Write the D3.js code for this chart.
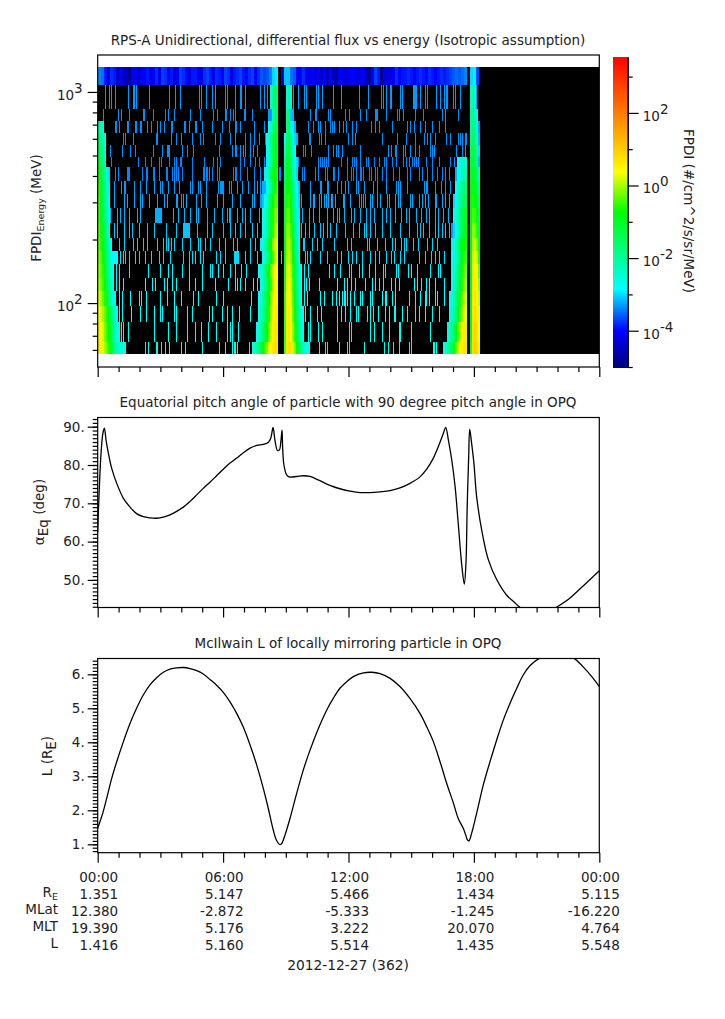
<!DOCTYPE html>
<html>
<head>
<meta charset="utf-8">
<title>RPS-A flux</title>
<script src="https://cdn.jsdelivr.net/npm/d3@7"></script>
<style>
  body { margin: 0; background: #fff; }
  text { font-family: "DejaVu Sans", sans-serif; fill: #222; }
</style>
</head>
<body>
<div id="my_dataviz"></div>
<script>
// ---- data ----
var sampleHours = 0.04785; // one spectrogram column, about 2.87 min
var lastSample = 501;
var countSpan = 1.5; // columns covered by one count

// energy channel edges in MeV, top of the plot first
var channelEdges = [1318, 1083, 833, 731, 641.5, 562.6, 493.6, 442.6, 380, 329.6, 283, 240, 204, 176.9, 153.6, 131.8, 114.4, 97.1, 81.5, 65.5, 57.5];

// top channel, log10 flux for every 3 columns (null = no counts)
var topChannel = [-3.4, -3.5, -3.9, -4.3, -3.8, -3.9, -4.4, -4, -4.4, -4.6, -4.8, -4.1, -4, -4.5, -4.1, -4, -3.9, -4.2, -4, -3.8,
  -4.1, -3.7, -3.8, -4.1, -3.9, -4.4, -4, -3.7, -3.8, -4, -4.2, -3.9, -3.9, -4.1, -4.2, -3.8, -3.7, -3.9, -4.1, -3.8,
  -3.9, -4, -3.7, -3.8, -4.2, -3.9, -3.8, -3.7, -3.9, -4, -3.8, -3.7, -4, -3.8, -3.6, -3.7, -3.6, -3.4, -3, -2.9,
  null, -4.2, -3.1, -3.1, -3.5, -3.6, -4, -4.1, -3.8, -4.2, -4.1, -4, -4.3, -4, -4.4, -4.1, -4.5, -4.1, -4.6, -4.8,
  -4, -4.1, -4.3, -4.1, -4, -4.1, -4.2, -4.1, -4.1, -4.7, -4.8, -4, -3.7, -3.9, -4.9, -4.2, -4.2, -4.3, -4.1, -3.8,
  -4, -3.9, -3.9, -3.8, -3.9, -4, -3.9, -3.8, -3.9, -4, -3.8, -3.9, -4, -3.9, -3.8, -3.9, -3.8, -3.7, -3.6, -3.5,
  -3.6, -3.5, -3.4, null, -3, -2.9, -3.7];

// log10 flux of a single count in channels 1..19
var oneCount = [-3.3, -3.35, -3.35, -3.35, -3.35, -3.4, -3.4, -3.3, -3.25, -3.2, -3.1, -3.05, -3, -2.9, -2.85, -2.8, -2.75, -2.7, -2.6];

// columns with a single count, channels 1..19
var countBins = [
  [7, 11, 13, 17, 30, 35, 36, 38, 51, 71, 77, 82, 101, 103, 108, 114, 117, 127, 129, 137, 142, 143, 147, 162, 166, 169, 192, 195, 200, 206, 208, 218, 220, 224, 235, 243, 261, 270, 283, 285, 288, 292, 293, 302, 304, 315, 316, 317, 318, 322, 327, 329, 338, 342, 346, 348, 349, 355, 357, 362, 378],
  [5, 20, 23, 31, 45, 46, 55, 67, 70, 76, 92, 102, 115, 119, 127, 128, 132, 135, 137, 146, 147, 154, 172, 173, 174, 175, 192, 193, 212, 217, 218, 230, 232, 247, 251, 262, 268, 277, 278, 279, 288, 299, 301, 305, 317, 325, 344, 347, 360],
  [17, 18, 21, 29, 30, 37, 38, 42, 43, 49, 53, 59, 62, 66, 73, 74, 86, 87, 91, 97, 98, 104, 114, 124, 131, 137, 138, 142, 156, 166, 171, 192, 210, 215, 220, 222, 227, 232, 234, 236, 241, 245, 248, 254, 258, 273, 277, 281, 294, 309, 312, 316, 322, 327, 334, 341, 347, 379],
  [25, 27, 35, 58, 59, 73, 78, 83, 94, 102, 105, 117, 122, 132, 137, 147, 152, 156, 161, 167, 196, 211, 212, 221, 223, 227, 250, 254, 257, 284, 299, 308, 317, 326, 329, 332, 337, 348, 352, 360, 362, 364, 367, 368],
  [12, 24, 32, 37, 55, 64, 69, 70, 71, 84, 89, 95, 121, 134, 137, 138, 142, 145, 147, 152, 155, 159, 205, 207, 213, 230, 235, 238, 240, 244, 262, 290, 293, 297, 298, 305, 307, 312, 317, 321, 332, 334, 336, 358, 364, 367],
  [13, 40, 47, 53, 61, 63, 71, 76, 78, 82, 83, 94, 106, 115, 119, 122, 142, 146, 152, 157, 161, 166, 198, 200, 220, 222, 224, 226, 228, 230, 243, 249, 254, 256, 258, 262, 268, 270, 276, 281, 286, 288, 294, 298, 305, 308, 311, 314, 316, 318, 320, 328, 334, 341, 352, 356],
  [17, 20, 29, 30, 31, 44, 48, 49, 55, 56, 61, 68, 69, 74, 76, 78, 80, 84, 94, 105, 106, 108, 109, 111, 114, 119, 121, 135, 137, 138, 142, 149, 156, 162, 166, 168, 181, 182, 198, 204, 206, 217, 220, 227, 229, 235, 236, 240, 249, 253, 255, 258, 262, 263, 265, 271, 273, 277, 279, 284, 288, 295, 301, 309, 312, 321, 324, 329, 334, 339, 344, 347, 351],
  [16, 23, 26, 27, 36, 42, 48, 56, 62, 64, 70, 76, 81, 92, 94, 100, 102, 108, 120, 122, 123, 124, 125, 131, 133, 139, 144, 150, 156, 159, 162, 201, 212, 222, 223, 229, 230, 239, 243, 247, 250, 258, 260, 266, 275, 279, 288, 298, 300, 302, 309, 326, 328, 329, 337, 343, 347, 352],
  [16, 26, 29, 36, 42, 44, 51, 59, 66, 69, 78, 79, 83, 85, 88, 98, 103, 108, 119, 125, 134, 142, 154, 156, 162, 201, 203, 212, 215, 216, 221, 223, 226, 228, 230, 233, 234, 237, 245, 246, 252, 261, 263, 265, 267, 272, 274, 279, 282, 289, 291, 297, 300, 302, 312, 314, 321, 324, 327, 330, 337, 338, 344, 347, 351],
  [12, 19, 22, 26, 31, 39, 42, 57, 58, 59, 60, 61, 62, 63, 75, 80, 86, 92, 98, 100, 109, 116, 124, 129, 131, 132, 139, 144, 147, 152, 161, 164, 195, 198, 204, 211, 215, 221, 229, 235, 239, 241, 246, 253, 256, 262, 268, 272, 276, 284, 288, 292, 297, 303, 308, 311, 318, 323, 328, 331, 337, 340, 345, 350],
  [16, 19, 26, 31, 34, 41, 49, 56, 68, 78, 85, 86, 87, 88, 89, 90, 91, 99, 109, 114, 125, 132, 137, 142, 147, 154, 159, 203, 207, 211, 216, 222, 225, 229, 232, 238, 247, 255, 261, 266, 268, 272, 277, 284, 292, 302, 311, 319, 322, 325, 331, 337, 340, 344, 347, 351],
  [21, 26, 35, 39, 45, 49, 59, 65, 68, 70, 73, 76, 84, 92, 100, 102, 107, 112, 121, 127, 135, 139, 152, 157, 162, 164, 201, 205, 206, 214, 219, 224, 236, 249, 253, 269, 271, 279, 287, 294, 297, 303, 306, 308, 315, 320, 329, 334, 339],
  [22, 25, 27, 31, 37, 41, 47, 53, 61, 65, 72, 85, 91, 94, 97, 102, 105, 118, 122, 127, 136, 137, 138, 139, 140, 147, 152, 159, 183, 207, 209, 212, 222, 229, 239, 243, 250, 254, 258, 264, 272, 277, 281, 288, 293, 296, 302, 306, 321, 327, 333, 337, 341, 346],
  [18, 21, 31, 50, 62, 70, 74, 84, 91, 104, 112, 114, 120, 125, 132, 137, 143, 148, 161, 206, 210, 231, 236, 242, 251, 253, 261, 264, 271, 277, 285, 287, 298, 300, 310, 313, 319, 332, 340, 342],
  [18, 21, 25, 47, 54, 57, 66, 69, 74, 78, 91, 97, 104, 117, 130, 137, 139, 142, 147, 155, 159, 162, 206, 208, 211, 221, 239, 246, 249, 253, 257, 267, 274, 277, 281, 285, 293, 297, 301, 316, 319, 323, 328, 331, 337, 346],
  [21, 24, 32, 41, 43, 48, 62, 69, 76, 83, 95, 100, 118, 125, 153, 206, 209, 222, 226, 234, 238, 241, 244, 246, 247, 249, 252, 256, 262, 264, 272, 274, 284, 287, 288, 294, 297, 311, 317, 322, 327, 328, 331, 337, 339, 346],
  [21, 24, 33, 42, 48, 56, 62, 64, 76, 78, 89, 94, 111, 114, 124, 129, 134, 141, 152, 207, 212, 219, 223, 239, 243, 247, 252, 258, 260, 269, 272, 275, 280, 287, 291, 296, 297, 304, 309, 317, 321, 327, 334, 341],
  [23, 25, 30, 56, 70, 78, 89, 97, 103, 110, 118, 129, 132, 134, 140, 210, 212, 220, 224, 239, 251, 253, 272, 276, 284, 291, 301, 302, 313, 332],
  [47, 50, 58, 59, 63, 67, 71, 83, 87, 104, 121, 127, 134, 136, 137, 139, 151, 221, 227, 229, 241, 249, 251, 266, 286, 290, 295, 301, 311, 313, 335, 336, 338]
];

// radiation belt passes, log10 flux every 2 columns, channels 1..19 (null = no counts)
// pass 1 starts at column 0, passes 3 and 5 start where noted,
// passes 2 and 4 are listed so that they end at the column noted
var beltStep = 2;
var pass1Start = 0;
var pass1 = [
  null, null,
  [-1.8, -2.2, -2.6],
  [-1.4, -1.8, -2.3, -2.6],
  [-1.2, -1.6, -2, -2.5],
  [-1, -1.4, -1.8, -2.3],
  [-0.7, -1, -1.5, -2, -2.5, -3],
  [-0.6, -0.9, -1.3, -1.8, -2.4, -2.9],
  [-0.5, -0.8, -1.3, -1.8, -2.3, -2.8],
  [-0.5, -0.8, -1.2, -1.7, -2.2, -2.7],
  [-0.4, -0.7, -1, -1.5, -2, -2.5],
  [-0.3, -0.6, -0.9, -1.3, -1.8, -2.3, -2.8],
  [-0.2, -0.4, -0.7, -1.1, -1.6, -2.1, -2.6, -2.8, -2.8, -2.8],
  [-0.1, -0.3, -0.6, -1, -1.5, -2, -2.5, -2.7],
  [0, -0.2, -0.5, -0.8, -1.3, -1.8, -2.3, -2.6],
  [0.2, 0, -0.3, -0.6, -1, -1.6, -2.1, -2.6, -2.7],
  [0.4, 0.2, 0, -0.3, -0.6, -1, -1.5, -2, -2.5, -2.7],
  [0.6, 0.4, 0.2, -0.2, -0.5, -0.8, -1.2, -1.7, -2.2, -2.6, -2.7],
  [0.7, 0.5, 0.3, 0, -0.3, -0.6, -1, -1.4, -1.9, -2.2, -2.5, -2.6, -2.6, -2.6]
];
var pass2End = 180;
var pass2 = [
  [-2.5, -1.9, -1.5, -1.7],
  [-3.3, -3.3, -2.2, -1.7, -1.4],
  [-2.8, -2.4, -1.9, -1.4, -1.2],
  [-2.8, -2.4, -1.9, -1.3, -1, -1.1],
  [-2.8, -2.5, -2, -1.4, -1, -0.9],
  [-2.9, -2.5, -2, -1.4, -0.9, -0.7],
  [-2.9, -2.6, -2.1, -1.5, -1, -0.7, -0.6],
  [-3.2, -3.2, -2.8, -2.4, -1.9, -1.3, -0.8, -0.5],
  [-3.3, -3.1, -2.8, -2.4, -1.9, -1.3, -0.8, -0.4, -0.4],
  [-2.8, -2.5, -2.1, -1.6, -1.1, -0.6, -0.2, -0.2],
  [-2.8, -2.5, -2.1, -1.6, -1.1, -0.6, -0.1, 0.1],
  [-2.9, -2.6, -2.2, -1.7, -1.2, -0.7, -0.1, 0.2, 0.2],
  [-2.7, -2.4, -2, -1.5, -1, -0.5, 0, 0.3],
  [-2.8, -2.6, -2.2, -1.8, -1.3, -0.8, -0.3, 0.1, 0.4, 0.4],
  [-2.7, -2.4, -2, -1.5, -1, -0.5, 0, 0.4, 0.5],
  [-2.8, -2.5, -2.1, -1.7, -1.2, -0.7, -0.2, 0.2, 0.5, 0.5],
  [-2.7, -2.4, -2, -1.6, -1.1, -0.6, -0.1, 0.3, 0.6, 0.6],
  [-2.7, -2.5, -2.1, -1.7, -1.2, -0.8, -0.3, 0.1, 0.5, 0.7, 0.7],
  [-2.6, -2.4, -2.1, -1.7, -1.3, -0.9, -0.5, -0.2, 0.3, 0.5, 0.7, 0.8, 0.7]
];
var pass3Start = 186;
var pass3 = [
  [null, -2.4, -2.2, -2.5],
  [null, -1.9, -1.6, -3.1, -3.2],
  [null, -1.8, -1.5, -2.6, -2.9, -3.2],
  [-2.8, -1.5, -1.3, -1.9, -2.6, -3, -3.2],
  [-2.3, -1.3, -1.2, -1.7, -2.4, -2.8],
  [-1.8, -1.1, -1, -1.5, -2.2, -2.7, -3],
  [-1.6, -0.9, -0.9, -1.4, -2, -2.6, -3],
  [-1.4, -0.8, -0.7, -1.1, -1.7, -2.3, -2.8, -3.1],
  [-1.2, -0.6, -0.5, -0.9, -1.5, -2.2, -2.7, -3],
  [-1.1, -0.4, -0.3, -0.7, -1.3, -2, -2.6, -2.9],
  [-1, -0.2, -0.1, -0.5, -1.1, -1.8, -2.4, -2.8],
  [-0.9, -0.1, 0.1, -0.3, -0.9, -1.5, -2.2, -2.7],
  [-0.8, 0, 0.2, -0.2, -0.8, -1.4, -2, -2.6],
  [-0.7, 0.2, 0.3, 0, -0.6, -1.2, -1.8, -2.4, -2.8],
  [-0.6, 0.3, 0.4, 0.1, -0.5, -1.1, -1.7, -2.3, -2.7],
  [-0.5, 0.4, 0.5, 0.2, -0.4, -1, -1.6, -2.2, -2.7],
  [-0.5, 0.5, 0.6, 0.3, -0.3, -0.8, -1.4, -2, -2.5, -2.8],
  [-0.5, 0.6, 0.7, 0.4, -0.1, -0.6, -1.2, -1.8, -2.3, -2.7],
  [-0.4, 0.7, 0.8, 0.7, 0.2, -0.2, -0.7, -1.2, -1.8, -2.2, -2.5, -2.7, -2.7]
];
var pass4End = 369;
var pass4 = [
  null, null, null, null, null,
  [-2.7, -2.6, -2.5, -2.4, -2.5],
  [-3.2, -2.8, -2.5, -2.3, -2.2, -2.2],
  [-2.7, -2.4, -2.1, -1.8, -1.7, -1.8],
  [-3, -2.7, -2.3, -1.9, -1.6, -1.4, -1.5],
  [-2.8, -2.4, -2, -1.6, -1.3, -1.1, -1.2],
  [-3.3, -3, -2.6, -2.1, -1.6, -1.2, -1, -0.9],
  [-2.9, -2.5, -2.1, -1.6, -1.1, -0.8, -0.7, -0.6],
  [-2.8, -2.6, -2.2, -1.8, -1.3, -0.9, -0.5, -0.4],
  [-2.7, -2.4, -2, -1.5, -1, -0.6, -0.3, -0.1],
  [-2.7, -2.3, -1.9, -1.4, -0.9, -0.5, -0.1, 0.1],
  [-2.8, -2.5, -2.1, -1.6, -1.1, -0.6, -0.2, 0.1, 0.3],
  [-2.6, -2.3, -1.9, -1.4, -0.9, -0.4, 0, 0.3, 0.4],
  [-2.5, -2.2, -1.8, -1.3, -0.8, -0.3, 0.1, 0.5, 0.6, 0.6],
  [-2.5, -2.3, -2, -1.6, -1.2, -0.7, -0.2, 0.2, 0.4, 0.6, 0.7, 0.7]
];
var pass5Start = 372;
var pass5 = [
  [-2.3, -2.1, -2.4],
  [-2, -1.9, -2.3, -2.9],
  [-1.9, -1.7, -2, -2.6, -3.3],
  [-1.7, -1.5, -1.8, -2.3, -3.2],
  [-1.5, -1.3, -1.5, -2, -3],
  [-1.3, -1.1, -1.3, -1.9, -3.2],
  [-1.1, -0.9, -1.1, -1.6, -2.3],
  [-1, -0.7, -0.9, -1.3, -2],
  [-0.9, -0.6, -0.7, -1, -1.7],
  [-0.9, -0.4, -0.5, -0.8, -1.5],
  [-0.8, -0.1, -0.2, -0.6, -1.2],
  [-0.8, 0, 0.2, -0.2, -1],
  [-0.7, 0.2, 0.4, 0.1, -0.6],
  [-0.7, 0.3, 0.5, 0.3, -0.3],
  [-0.7, 0.4, 0.6, 0.4, -0.1],
  [-0.7, 0.5, 0.7, 0.5, 0.1],
  [-0.7, 0.6, 0.8, 0.6, 0.3],
  [-0.7, 0.7, 0.9, 0.7, 0.4],
  [-0.6, 0.8, 1, 0.8, 0.5]
];

// equatorial pitch angle
var alphaHours = [0, 0.03, 0.08, 0.16, 0.25, 0.32, 0.4, 0.51, 0.67, 0.91, 1.23, 1.55, 1.86, 2.18, 2.5, 2.82, 3.14, 3.46, 3.78, 4.1, 4.42, 4.74, 5.05, 5.37, 5.69, 6.01, 6.33, 6.65, 6.97, 7.29, 7.61, 7.92, 8.16, 8.28, 8.39, 8.48, 8.6, 8.69, 8.77, 8.82, 8.85, 8.91, 9.04, 9.15, 9.52, 9.84, 10.16, 10.63, 11.11, 11.59, 12.07, 12.55, 13.03, 13.51, 13.99, 14.46, 14.94, 15.42, 15.74, 16.06, 16.3, 16.54, 16.65, 16.78, 16.94, 17.1, 17.25, 17.41, 17.54, 17.62, 17.68, 17.75, 17.8, 17.89, 18, 18.13, 18.37, 18.69, 19.09, 19.57, 19.97, 20.17, 20.52, 21.16, 21.64, 21.99, 22.6, 23.24, 24];
var alphaValues = [62.4, 67.4, 74.4, 83.1, 88.3, 89.6, 86.5, 83.1, 79.1, 75.2, 71.3, 69, 67.3, 66.5, 66.2, 66.1, 66.4, 67, 67.9, 69, 70.5, 72.2, 73.9, 75.5, 77.2, 78.9, 80.5, 81.8, 83.2, 84.4, 85.1, 85.4, 85.9, 87, 89.8, 86.5, 83.8, 83.9, 86.5, 89.1, 84.4, 80, 77.4, 76.9, 77, 77.2, 77, 75.9, 74.7, 73.8, 73.2, 72.8, 72.8, 73, 73.3, 74, 75.2, 76.9, 78.9, 81.8, 84.8, 88.3, 89.8, 86.5, 81.3, 74.4, 64.8, 54.4, 48.9, 54.4, 69.2, 82.2, 89.3, 85.7, 80.5, 71.8, 63.1, 55.3, 50.1, 46, 44, 43, 41.8, 41.2, 41.9, 43, 45.3, 48.5, 52.4];

// McIlwain L
var lHours = [0, 0.11, 0.24, 0.43, 0.67, 0.91, 1.23, 1.55, 1.86, 2.18, 2.5, 2.82, 3.14, 3.46, 3.78, 4.1, 4.42, 4.74, 5.05, 5.37, 5.69, 6.01, 6.33, 6.65, 6.97, 7.29, 7.61, 7.92, 8.16, 8.4, 8.56, 8.72, 8.81, 8.96, 9.2, 9.52, 9.84, 10.16, 10.63, 10.96, 11.27, 11.59, 11.91, 12.23, 12.71, 13.11, 13.51, 13.99, 14.46, 14.94, 15.42, 15.74, 16.06, 16.38, 16.7, 17.02, 17.25, 17.49, 17.61, 17.69, 17.76, 17.89, 18.13, 18.45, 18.77, 19.09, 19.41, 19.73, 20.05, 20.36, 20.68, 21.13, 21.96, 22.79, 23.24, 23.64, 24];
var lValues = [1.47, 1.67, 1.91, 2.35, 2.94, 3.43, 4.02, 4.56, 5, 5.39, 5.69, 5.9, 6.06, 6.15, 6.19, 6.2, 6.17, 6.11, 6.01, 5.85, 5.68, 5.47, 5.19, 4.85, 4.44, 3.92, 3.33, 2.65, 2.06, 1.42, 1.11, 0.99, 1.03, 1.27, 1.76, 2.5, 3.19, 3.77, 4.51, 4.95, 5.29, 5.59, 5.78, 5.93, 6.04, 6.06, 6.02, 5.88, 5.64, 5.29, 4.85, 4.46, 4.02, 3.43, 2.79, 2.21, 1.76, 1.47, 1.27, 1.13, 1.1, 1.32, 1.91, 2.75, 3.43, 4.07, 4.66, 5.15, 5.59, 5.98, 6.25, 6.47, 6.62, 6.47, 6.21, 5.93, 5.64];

// ephemeris table under the bottom panel
var timeTicks = [0, 6, 12, 18, 24];
var timeLabels = ["00:00", "06:00", "12:00", "18:00", "00:00"];
var reValues = ["1.351", "5.147", "5.466", "1.434", "5.115"];
var mlatValues = ["12.380", "-2.872", "-5.333", "-1.245", "-16.220"];
var mltValues = ["19.390", "5.176", "3.222", "20.070", "4.764"];
var lShellValues = ["1.416", "5.160", "5.514", "1.435", "5.548"];

// colour table, log10 flux to colour
var colorLogs = [-5, -4, -2.84, -0.73, 0.38, 3.55];
var colorStops = ["#00007f", "#0000ff", "#00ffff", "#00ff00", "#ffff00", "#ff0000"];

// ---- layout ----
var left = 97.7, right = 599.3;
var lineWidth = 1.2;

var svg = d3
  .select("#my_dataviz")
  .append("svg")
  .attr("width", 725)
  .attr("height", 1019)
  .style("display", "block");

var x = d3.scaleLinear().domain([0, 24]).range([left, right]);
var color = d3.scaleLinear().domain(colorLogs).range(colorStops).clamp(true);

function timeAxis(bottom) {
  var g = svg.append("g").attr("transform", "translate(0," + bottom + ")");
  g.append("g").call(
    d3.axisBottom(x).tickValues(d3.range(0, 25).filter(function (h) { return h % 6 != 0; }))
      .tickSize(5).tickSizeOuter(0).tickFormat("")
  );
  g.append("g").call(
    d3.axisBottom(x).tickValues(timeTicks).tickSize(10).tickSizeOuter(0).tickFormat("")
  );
  g.selectAll("path").remove();
  g.selectAll("line").attr("stroke", "#000").attr("stroke-width", lineWidth);
}

function valueAxis(y, minor, major, fmt) {
  var g = svg.append("g").attr("transform", "translate(" + left + ",0)");
  g.append("g").call(d3.axisLeft(y).tickValues(minor).tickSize(5).tickSizeOuter(0).tickFormat(""));
  var m = g.append("g").call(d3.axisLeft(y).tickValues(major).tickSize(10).tickSizeOuter(0).tickFormat(fmt));
  g.selectAll("path").remove();
  g.selectAll("line").attr("stroke", "#000").attr("stroke-width", lineWidth);
  m.selectAll("text").style("font-size", "13.5px").style("font-family", '"DejaVu Sans"').attr("fill", "#222");
  return m;
}

function frame(top, bottom) {
  svg.append("rect")
    .attr("x", left).attr("y", top)
    .attr("width", right - left).attr("height", bottom - top)
    .attr("fill", "none").attr("stroke", "#000").attr("stroke-width", lineWidth);
}

function title(text, y) {
  svg.append("text").attr("x", 348).attr("y", y).attr("text-anchor", "middle")
    .style("font-size", "13.5px").text(text);
}

// rotated y label, parts are [text, size, dy]
function yLabel(px, py, parts, rotate, size) {
  var t = svg.append("text")
    .attr("transform", "translate(" + px + "," + py + ") rotate(" + rotate + ")")
    .attr("text-anchor", "middle")
    .style("font-size", size + "px");
  parts.forEach(function (p) {
    var span = t.append("tspan").text(p[0]);
    span.style("font-size", (p[1] || size) + "px");
    if (p[2]) span.attr("dy", p[2]);
  });
}

// power of ten tick label, "10" with the exponent raised
function powerLabel(sel, exp, anchorX) {
  sel.each(function (d) {
    var e = exp(d);
    var t = d3.select(this).text("").attr("x", anchorX);
    t.append("tspan").text("10");
    t.append("tspan").attr("dy", -7).style("font-size", "13.5px").text(e);
  });
}

// ---- spectrogram ----
var y1 = d3.scaleLog().domain([49.8, 1496]).range([367, 55]);

var rows = svg.append("g").attr("shape-rendering", "crispEdges");

rows.append("rect")
  .attr("x", x(0))
  .attr("y", y1(channelEdges[0]))
  .attr("width", x(lastSample * sampleHours) - x(0))
  .attr("height", y1(channelEdges[channelEdges.length - 1]) - y1(channelEdges[0]))
  .attr("fill", "#000");

function drawCell(channel, column, span, value) {
  if (value === null) return;
  rows.append("rect")
    .attr("x", x(column * sampleHours))
    .attr("y", y1(channelEdges[channel]))
    .attr("width", x((column + span) * sampleHours) - x(column * sampleHours))
    .attr("height", y1(channelEdges[channel + 1]) - y1(channelEdges[channel]))
    .attr("fill", color(value));
}

topChannel.forEach(function (v, i) {
  drawCell(0, i * 3, 3, v);
});

countBins.forEach(function (bins, i) {
  bins.forEach(function (b) {
    drawCell(i + 1, b, countSpan, oneCount[i]);
  });
});

function drawPassFrom(pass, start) {
  pass.forEach(function (vals, i) {
    if (!vals) return;
    vals.forEach(function (v, k) {
      drawCell(i + 1, start + k * beltStep, beltStep, v);
    });
  });
}

function drawPassTo(pass, end) {
  pass.forEach(function (vals, i) {
    if (!vals) return;
    vals.forEach(function (v, k) {
      drawCell(i + 1, end - (vals.length - k) * beltStep, beltStep, v);
    });
  });
}

drawPassFrom(pass1, pass1Start);
drawPassTo(pass2, pass2End);
drawPassFrom(pass3, pass3Start);
drawPassTo(pass4, pass4End);
drawPassFrom(pass5, pass5Start);

frame(55, 367);
timeAxis(367);
var axis1 = valueAxis(
  y1,
  [60, 70, 80, 90, 200, 300, 400, 500, 600, 700, 800, 900],
  [100, 1000],
  function (d) { return d; }
);
axis1.selectAll("text").call(powerLabel, function (d) { return Math.round(Math.log10(d)); }, -15);
axis1.selectAll("text").attr("dy", "0.55em");
title("RPS-A Unidirectional, differential flux vs energy (Isotropic assumption)", 45);
yLabel(41, 208, [["FPDI", 13.5], ["Energy", 9.5, 3], [" (MeV)", 13.5, -3]], -90, 13.5);

// ---- colour bar ----
var barLeft = 613, barRight = 627.7;
var yBar = d3.scaleLog().domain([1e-5, 3467]).range([367, 57]);

svg.append("g").attr("shape-rendering", "crispEdges")
  .selectAll("rect")
  .data(d3.range(-5, 3.54, 0.02))
  .enter()
  .append("rect")
  .attr("x", barLeft)
  .attr("width", barRight - barLeft)
  .attr("y", function (d) { return yBar(Math.pow(10, d + 0.02)); })
  .attr("height", function (d) { return yBar(Math.pow(10, d)) - yBar(Math.pow(10, d + 0.02)) + 0.5; })
  .attr("fill", function (d) { return color(d); });

var barAxis = svg.append("g").attr("transform", "translate(" + barRight + ",0)");
barAxis.append("g").call(d3.axisRight(yBar).tickValues([1e-5, 1e-3, 1e-1, 10, 1000]).tickSize(5).tickSizeOuter(0).tickFormat(""));
var barMajor = barAxis.append("g").call(d3.axisRight(yBar).tickValues([1e-4, 1e-2, 1, 100]).tickSize(11).tickSizeOuter(0).tickFormat(function (d) { return d; }));
barAxis.selectAll("line").attr("stroke", "#000").attr("stroke-width", lineWidth);
barAxis.selectAll("path").attr("stroke", "#000").attr("stroke-width", lineWidth);
barMajor.selectAll("text").style("font-size", "13.5px").style("font-family", '"DejaVu Sans"').attr("fill", "#222")
  .attr("text-anchor", "start")
  .call(powerLabel, function (d) { return Math.round(Math.log10(d)); }, 15);
barMajor.selectAll("text").attr("dy", "0.55em");
yLabel(684, 211, [["FPDI (#/cm^2/s/sr/MeV)", 13.5]], 90, 13.5);

// ---- pitch angle ----
var y2 = d3.scaleLinear().domain([42.8, 92.4]).range([607.5, 417.5]);
svg.append("clipPath").attr("id", "clip2").append("rect")
  .attr("x", left).attr("y", 417.5).attr("width", right - left).attr("height", 190);

var alphaLine = d3.line()
  .curve(d3.curveCatmullRom.alpha(0.5))
  .x(function (d, i) { return x(alphaHours[i]); })
  .y(function (d) { return y2(d); });

svg.append("path")
  .datum(alphaValues)
  .attr("clip-path", "url(#clip2)")
  .attr("d", alphaLine)
  .attr("fill", "none").attr("stroke", "#000").attr("stroke-width", 1.3);

frame(417.5, 607.5);
timeAxis(607.5);
valueAxis(y2, d3.range(43, 93), [50, 60, 70, 80, 90], function (d) { return d + "."; });
title("Equatorial pitch angle of particle with 90 degree pitch angle in OPQ", 407);
yLabel(44, 512, [["\u03b1", 13.5], ["Eq", 13.5, 4], [" (deg)", 13.5, -4]], -90, 13.5);

// ---- L shell ----
var y3 = d3.scaleLinear().domain([0.753, 6.465]).range([852.7, 658.5]);
svg.append("clipPath").attr("id", "clip3").append("rect")
  .attr("x", left).attr("y", 658.5).attr("width", right - left).attr("height", 194.2);

var lLine = d3.line()
  .curve(d3.curveCatmullRom.alpha(0.5))
  .x(function (d, i) { return x(lHours[i]); })
  .y(function (d) { return y3(d); });

svg.append("path")
  .datum(lValues)
  .attr("clip-path", "url(#clip3)")
  .attr("d", lLine)
  .attr("fill", "none").attr("stroke", "#000").attr("stroke-width", 1.3);

frame(658.5, 852.7);
timeAxis(852.7);
valueAxis(y3, d3.range(0.8, 6.45, 0.1), [1, 2, 3, 4, 5, 6], function (d) { return d + "."; });
title("McIlwain L of locally mirroring particle in OPQ", 648);
yLabel(52, 756, [["L (R", 13.5], ["E", 13.5, 4], [")", 13.5, -4]], -90, 13.5);

// ---- ephemeris table ----
function tableRow(values, baseline) {
  svg.append("g").selectAll("text")
    .data(values)
    .enter()
    .append("text")
    .attr("x", function (d, i) { return x(timeTicks[i]) + 20.5; })
    .attr("y", baseline)
    .attr("text-anchor", "end")
    .style("font-size", "13.5px")
    .text(function (d) { return d; });
}

tableRow(timeLabels, 881.5);
tableRow(reValues, 898.5);
tableRow(mlatValues, 915.5);
tableRow(mltValues, 932.5);
tableRow(lShellValues, 949.5);

function rowName(parts, baseline) {
  var t = svg.append("text").attr("x", 58).attr("y", baseline).attr("text-anchor", "end").style("font-size", "13.5px");
  parts.forEach(function (p) {
    var span = t.append("tspan").text(p[0]);
    if (p[1]) span.style("font-size", p[1] + "px").attr("dy", p[2]);
  });
}

rowName([["R"], ["E", 9.5, 3]], 897);
rowName([["MLat"]], 914);
rowName([["MLT"]], 931);
rowName([["L"]], 948);

svg.append("text").attr("x", 348).attr("y", 970).attr("text-anchor", "middle")
  .style("font-size", "13.8px").text("2012-12-27 (362)");
</script>
</body>
</html>
